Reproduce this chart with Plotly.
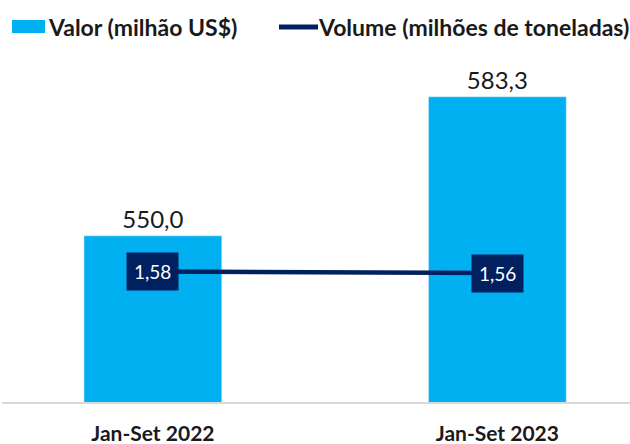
import plotly.graph_objects as go

categories = ["Jan-Set 2022", "Jan-Set 2023"]
valor = [550.0, 583.3]
volume = [1.58, 1.56]
valor_name = "Valor (milhão US$)"
volume_name = "Volume (milhões de toneladas)"

BAR = "#00B0F0"
NAVY = "#002060"
TXT = "#1a1a1a"
FONT = "Lato"

# plot area in pixels: x 2..630, y 40..402
PL, PR, PT, PB = 2, 630, 40, 402


def px(x):
    return (x - PL) / (PR - PL)


def py(y):
    return (PB - y) / (PB - PT)


fig = go.Figure()
fig.add_trace(go.Bar(
    x=categories, y=valor, name=valor_name, marker_color=BAR,
    width=0.4, texttemplate="%{y:.1f}", textposition="outside",
    textfont=dict(size=24, color=TXT, family=FONT),
    cliponaxis=False, showlegend=False,
))
fig.add_trace(go.Scatter(
    x=categories, y=volume, name=volume_name, yaxis="y2", mode="lines",
    line=dict(color=NAVY, width=4.5), showlegend=False,
))
for c, v in zip(categories, volume):
    fig.add_annotation(
        x=c, y=v, xref="x", yref="y2", text=f"{v:.2f}".replace(".", ","),
        showarrow=False, bgcolor=NAVY, borderpad=7,
        font=dict(size=19, color="white", family=FONT),
    )

# legend drawn manually
fig.add_shape(type="rect", xref="paper", yref="paper",
              x0=px(12), x1=px(45), y0=py(33), y1=py(20),
              fillcolor=BAR, line=dict(width=0))
fig.add_shape(type="line", xref="paper", yref="paper",
              x0=px(279), x1=px(318), y0=py(27), y1=py(27),
              line=dict(color=NAVY, width=5))
fig.add_annotation(xref="paper", yref="paper", x=px(46), y=py(27),
                   xanchor="left", yanchor="middle", showarrow=False,
                   text="<b>" + valor_name + "</b>",
                   font=dict(size=23, color=TXT, family=FONT))
fig.add_annotation(xref="paper", yref="paper", x=px(316), y=py(27),
                   xanchor="left", yanchor="middle", showarrow=False,
                   text="<b>" + volume_name + "</b>",
                   font=dict(size=23, color=TXT, family=FONT))

fig.update_layout(
    width=630, height=444,
    margin=dict(l=PL, r=630 - PR, t=PT, b=444 - PB),
    paper_bgcolor="white", plot_bgcolor="white",
    separators=",.",
    xaxis=dict(range=[-0.438, 1.385], showline=True, linecolor="#d9d9d9", linewidth=1.5,
               ticks="", tickfont=dict(size=21, color=TXT, family=FONT),
               tickprefix="<b>", ticksuffix="</b>", ticklabelstandoff=12,
               showgrid=False, fixedrange=True),
    yaxis=dict(range=[510.2, 596.9], visible=False, showgrid=False),
    yaxis2=dict(range=[0, 4.38], overlaying="y", visible=False, showgrid=False),
    showlegend=False,
    font=dict(family=FONT),
)
fig.write_html("out.html", config={"displayModeBar": False},
               post_script="document.body.style.margin='0';")
